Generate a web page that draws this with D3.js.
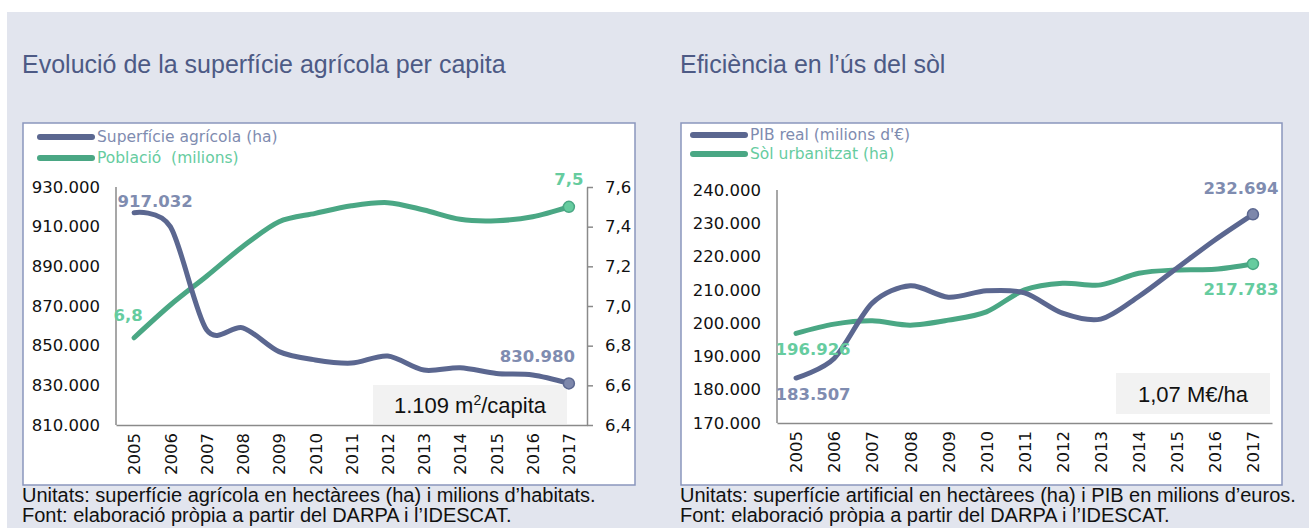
<!DOCTYPE html>
<html>
<head>
<meta charset="utf-8">
<script src="https://cdn.jsdelivr.net/npm/d3@7"></script>
<style>
  body { margin: 0; background: #fff; }
  text { font-family: "DejaVu Sans", sans-serif; white-space: pre; }
  .title { font-family: "Liberation Sans", Arial, sans-serif; font-size: 25px; fill: #4d5a85; }
  .foot { font-family: "Liberation Sans", Arial, sans-serif; font-size: 20px; fill: #111; }
  .note { font-family: "Liberation Sans", Arial, sans-serif; font-size: 22px; fill: #111; }
  .axis text { font-family: "DejaVu Sans", sans-serif; font-size: 16.5px; fill: #111; }
  .axis path, .axis line { stroke: #8a8a8a; stroke-width: 1.5px; }
</style>
</head>
<body>
<div id="canvas"></div>
<script>
// categories
var years = ['2005','2006','2007','2008','2009','2010','2011','2012','2013','2014','2015','2016','2017'];

// left chart: superficie agricola (ha) and poblacio (milions)
var superficieAgricola = [917032, 910000, 858000, 859000, 847000, 842800, 841200, 844800, 837700, 838900, 836000, 835200, 830980];
var poblacio = [6.84, 7.005, 7.15, 7.30, 7.425, 7.467, 7.505, 7.521, 7.484, 7.437, 7.43, 7.45, 7.50];

// right chart: PIB real (milions d'euros) and sol urbanitzat (ha)
var pibReal = [183507, 189400, 206000, 211200, 207800, 209700, 209100, 203000, 201200, 208000, 216500, 225000, 232694];
var solUrbanitzat = [196926, 199700, 200700, 199400, 200900, 203400, 210000, 212000, 211500, 215000, 216000, 216200, 217783];

// ticks
var superficieTicks = [810000, 830000, 850000, 870000, 890000, 910000, 930000];
var poblacioTicks = [6.4, 6.6, 6.8, 7.0, 7.2, 7.4, 7.6];
var pibTicks = [170000, 180000, 190000, 200000, 210000, 220000, 230000, 240000];

var W = 1309, H = 528;
var dark = '#5b6790', darkText = '#7f8cb0', darkDot = '#7d87ab';
var green = '#4aa784', greenText = '#66cc9f', greenDot = '#66cc9f';

var ca = d3.formatLocale({decimal: ',', thousands: '.', grouping: [3], currency: ['', '€']});
var fmtInt = ca.format(',d'), fmtDec = ca.format('.1f');

var svg = d3.select('#canvas').append('svg')
    .attr('width', W).attr('height', H);

svg.append('rect').attr('x', 7).attr('y', 12).attr('width', W - 7).attr('height', H - 12)
    .attr('fill', '#e2e5ee');

var line = function(x, y){
    return d3.line()
        .x(function(d, i){ return x(years[i]); })
        .y(function(d){ return y(d); })
        .curve(d3.curveCardinal.tension(0.1));
};

function frame(x0, x1, title, legend, units){
    svg.append('text').attr('class', 'title').attr('x', x0 - 1).attr('y', 73).text(title);
    svg.append('rect').attr('x', x0).attr('y', 123).attr('width', x1 - x0).attr('height', 362)
        .attr('fill', '#fff').attr('stroke', '#8a96bd').attr('stroke-width', 1.5);

    legend.forEach(function(l, i){
        var ly = l.y;
        svg.append('line').attr('x1', l.x).attr('x2', l.x + 52).attr('y1', ly).attr('y2', ly)
            .attr('stroke', l.color).attr('stroke-width', 6).attr('stroke-linecap', 'round');
        svg.append('text').attr('x', l.x + 57).attr('y', ly).attr('dy', '0.35em')
            .style('font-size', '15.5px').attr('fill', l.text).text(l.label);
    });

    svg.append('text').attr('class', 'foot').attr('x', x0 - 1).attr('y', 502).text(units);
    svg.append('text').attr('class', 'foot').attr('x', x0 - 1).attr('y', 522)
        .text('Font: elaboració pròpia a partir del DARPA i l\u2019IDESCAT.');
}

function note(x0, y0, w, h){
    svg.append('rect').attr('x', x0).attr('y', y0).attr('width', w).attr('height', h).attr('fill', '#f2f2f2');
    return svg.append('text').attr('class', 'note').attr('x', x0 + w / 2).attr('y', y0 + h / 2 + 8)
        .attr('text-anchor', 'middle');
}

function xAxis(g, x, y0){
    var ax = g.append('g').attr('class', 'axis').attr('transform', 'translate(0,' + y0 + ')')
        .call(d3.axisBottom(x).tickSize(0).tickSizeOuter(0));
    ax.selectAll('text')
        .attr('transform', 'rotate(-90)')
        .attr('text-anchor', 'end')
        .attr('x', -8).attr('y', 0).attr('dy', '0.35em');
}

function dot(x, y, val, fill, stroke){
    svg.append('circle').attr('cx', x(years[12])).attr('cy', y(val)).attr('r', 5.5)
        .attr('fill', fill).attr('stroke', stroke).attr('stroke-width', 1.5);
}

function label(px, py, txt, color, anchor){
    svg.append('text').attr('x', px).attr('y', py).attr('text-anchor', anchor || 'middle')
        .style('font-size', '16.5px').style('font-weight', 'bold').attr('fill', color).text(txt);
}

// ---------- left chart ----------
frame(23, 635, 'Evolució de la superfície agrícola per capita', [
    {x: 40, y: 137, color: dark, text: darkText, label: 'Superfície agrícola (ha)'},
    {x: 40, y: 158, color: green, text: greenText, label: 'Població  (milions)'}
], 'Unitats: superfície agrícola en hectàrees (ha) i milions d\u2019habitats.');

var x1 = d3.scalePoint().domain(years).range([116, 587]).padding(0.5);
var y1 = d3.scaleLinear().domain([810000, 930000]).range([425, 187]);
var y1r = d3.scaleLinear().domain([6.4, 7.6]).range([425, 187]);

var g1 = svg.append('g');
g1.append('g').attr('class', 'axis').attr('transform', 'translate(116,0)')
    .call(d3.axisLeft(y1).tickValues(superficieTicks).tickSize(0).tickPadding(16).tickFormat(fmtInt))
    .select('.domain').attr('d', 'M0,' + y1(930000) + 'V' + y1(810000));
g1.append('g').attr('class', 'axis').attr('transform', 'translate(587,0)')
    .call(d3.axisRight(y1r).tickValues(poblacioTicks).tickSize(6).tickSizeOuter(0).tickPadding(12).tickFormat(fmtDec));
xAxis(g1, x1, 425);

note(373, 385, 194, 39).html('1.109 m<tspan dy="-8" style="font-size:14px">2</tspan><tspan dy="8">/capita</tspan>');

g1.append('path').datum(poblacio).attr('d', line(x1, y1r))
    .attr('fill', 'none').attr('stroke', green).attr('stroke-width', 5).attr('stroke-linecap', 'round');
g1.append('path').datum(superficieAgricola).attr('d', line(x1, y1))
    .attr('fill', 'none').attr('stroke', dark).attr('stroke-width', 5).attr('stroke-linecap', 'round');
dot(x1, y1r, poblacio[12], greenDot, green);
dot(x1, y1, superficieAgricola[12], darkDot, dark);

label(x1(years[0]) + 21, y1(superficieAgricola[0]) - 6, fmtInt(superficieAgricola[0]), darkText);
label(x1(years[12]) + 6, y1(superficieAgricola[12]) - 21, fmtInt(superficieAgricola[12]), darkText, 'end');
label(x1(years[0]) - 6, y1r(poblacio[0]) - 17, fmtDec(poblacio[0]), greenText);
label(x1(years[12]), y1r(poblacio[12]) - 22, fmtDec(poblacio[12]), greenText);

// ---------- right chart ----------
frame(681, 1282, 'Eficiència en l\u2019ús del sòl', [
    {x: 693, y: 135, color: dark, text: darkText, label: 'PIB real (milions d\'€)'},
    {x: 693, y: 154, color: green, text: greenText, label: 'Sòl urbanitzat (ha)'}
], 'Unitats: superfície artificial en hectàrees (ha) i PIB en milions d\u2019euros.');

var x2 = d3.scalePoint().domain(years).range([777, 1272]).padding(0.5);
var y2 = d3.scaleLinear().domain([170000, 240000]).range([423, 190]);

var g2 = svg.append('g');
g2.append('g').attr('class', 'axis').attr('transform', 'translate(777,0)')
    .call(d3.axisLeft(y2).tickValues(pibTicks).tickSize(0).tickPadding(16).tickFormat(fmtInt))
    .select('.domain').attr('d', 'M0,' + y2(240000) + 'V' + y2(170000));
xAxis(g2, x2, 423);

note(1116, 373, 154, 41).text('1,07 M€/ha');

g2.append('path').datum(solUrbanitzat).attr('d', line(x2, y2))
    .attr('fill', 'none').attr('stroke', green).attr('stroke-width', 5).attr('stroke-linecap', 'round');
g2.append('path').datum(pibReal).attr('d', line(x2, y2))
    .attr('fill', 'none').attr('stroke', dark).attr('stroke-width', 5).attr('stroke-linecap', 'round');
dot(x2, y2, solUrbanitzat[12], greenDot, green);
dot(x2, y2, pibReal[12], darkDot, dark);

label(x2(years[0]) + 17, y2(pibReal[0]) + 22, fmtInt(pibReal[0]), darkText);
label(x2(years[0]) + 17, y2(solUrbanitzat[0]) + 22, fmtInt(solUrbanitzat[0]), greenText);
label(x2(years[12]) - 12, y2(pibReal[12]) - 20, fmtInt(pibReal[12]), darkText);
label(x2(years[12]) - 12, y2(solUrbanitzat[12]) + 31, fmtInt(solUrbanitzat[12]), greenText);
</script>
</body>
</html>
